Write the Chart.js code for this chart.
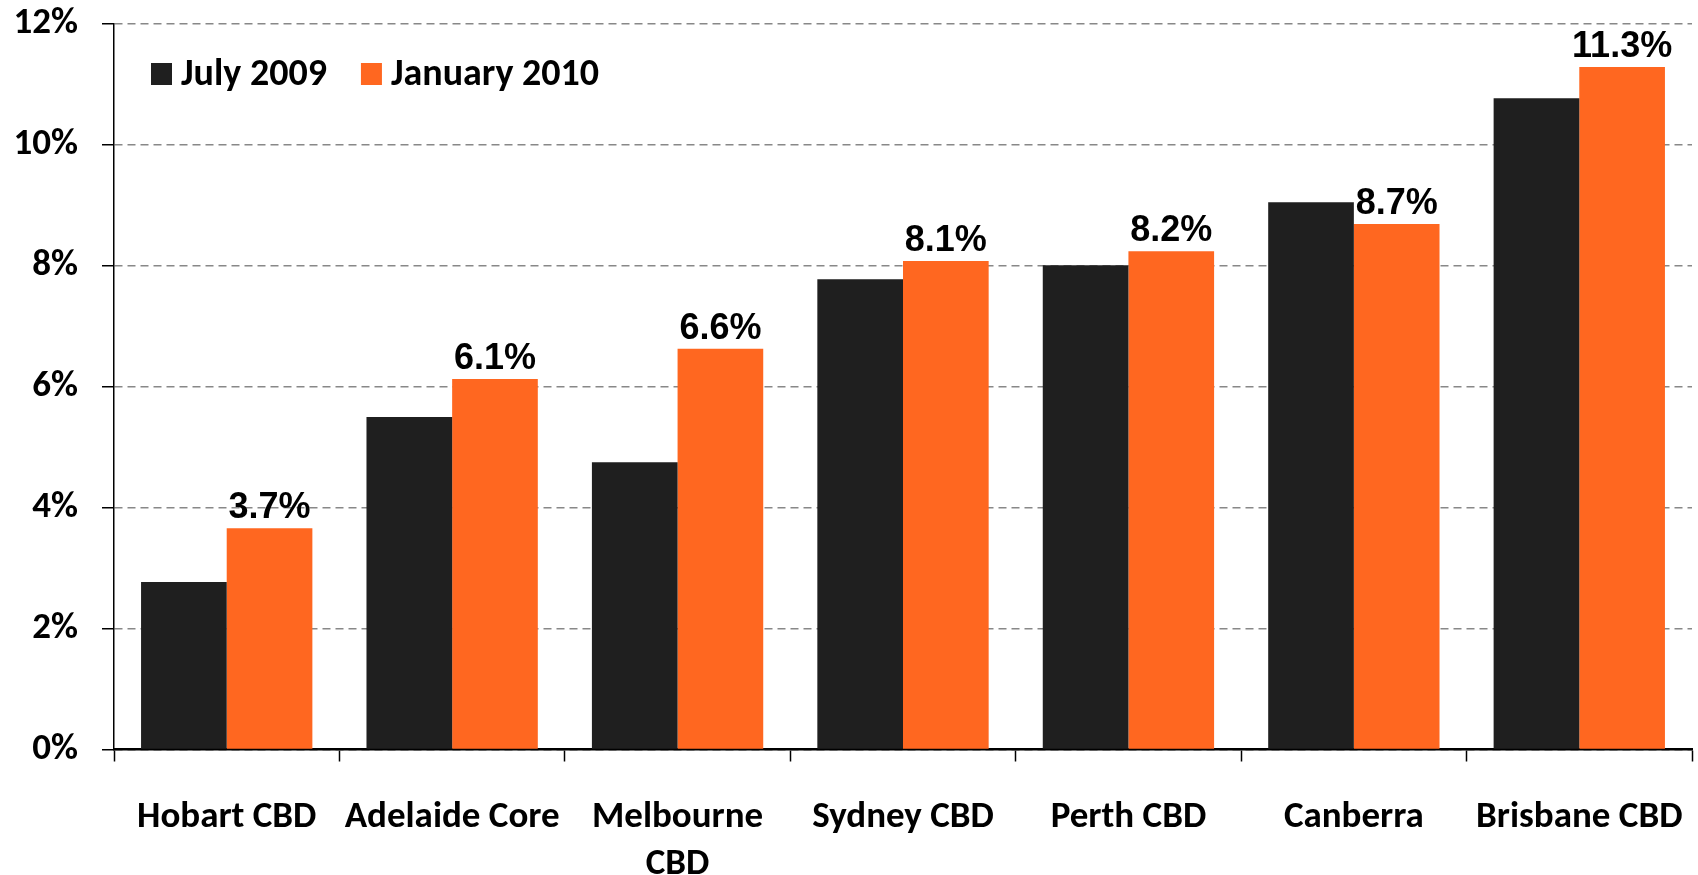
<!DOCTYPE html>
<html>
<head>
<meta charset="utf-8">
<script src="https://cdn.jsdelivr.net/npm/chart.js@4.4.0/dist/chart.umd.min.js"></script>
<style>
  html, body { margin: 0; padding: 0; background: #fff; }
  #wrap { position: relative; width: 1698px; height: 875px; }
</style>
</head>
<body>
<div id="wrap"><canvas id="vacancyChart"></canvas></div>
<script>
// categories and series
const cities = ['Hobart CBD', 'Adelaide Core', ['Melbourne', 'CBD'], 'Sydney CBD', 'Perth CBD', 'Canberra', 'Brisbane CBD'];
const july2009 = [2.77, 5.5, 4.75, 7.78, 8.01, 9.05, 10.77];
const jan2010 = [3.66, 6.13, 6.63, 8.08, 8.24, 8.69, 11.29];
const yTicks = [0, 2, 4, 6, 8, 10, 12];

const tickFont = "Carlito, 'Liberation Sans Narrow', 'DejaVu Sans Condensed', sans-serif";

// value labels above January 2010 bars
const barLabels = {
  id: 'barLabels',
  afterDatasetsDraw(chart) {
    const ctx = chart.ctx;
    const meta = chart.getDatasetMeta(1);
    ctx.save();
    ctx.font = "bold 36px 'Liberation Sans', Arial, sans-serif";
    ctx.fillStyle = '#000';
    ctx.textAlign = 'center';
    ctx.textBaseline = 'alphabetic';
    meta.data.forEach(function(bar, i) {
      ctx.fillText(jan2010[i].toFixed(1) + '%', bar.x, bar.y - 10);
    });
    ctx.restore();
  }
};

// legend drawn in one row inside the plot, top-left
const inlineLegend = {
  id: 'inlineLegend',
  afterDraw(chart) {
    const ctx = chart.ctx;
    const area = chart.chartArea;
    let x = area.left + 37;
    const y = area.top + 50;
    ctx.save();
    ctx.font = "bold 38px " + tickFont;
    ctx.textBaseline = 'middle';
    ctx.textAlign = 'left';
    chart.data.datasets.forEach(function(ds) {
      ctx.fillStyle = ds.backgroundColor;
      ctx.fillRect(x, y - 11, 21, 22);
      x += 30;
      ctx.fillStyle = '#000';
      ctx.fillText(ds.label, x, y + 1);
      x += ctx.measureText(ds.label).width + 34;
    });
    ctx.restore();
  }
};

new Chart(document.getElementById('vacancyChart'), {
  type: 'bar',
  data: {
    labels: cities,
    datasets: [
      {
        label: 'July 2009',
        data: july2009,
        backgroundColor: '#1F1F1F',
        categoryPercentage: 0.76,
        barPercentage: 1.0
      },
      {
        label: 'January 2010',
        data: jan2010,
        backgroundColor: '#FF6720',
        categoryPercentage: 0.76,
        barPercentage: 1.0
      }
    ]
  },
  options: {
    responsive: true,
    maintainAspectRatio: false,
    animation: false,
    layout: { padding: { top: 24, right: 6, left: 0, bottom: 0 } },
    scales: {
      x: {
        grid: {
          display: true,
          drawOnChartArea: false,
          drawTicks: true,
          tickLength: 12,
          tickColor: '#000',
          tickWidth: 1.5
        },
        border: { display: true, color: '#000', width: 2.5 },
        ticks: {
          color: '#000',
          padding: 33,
          maxRotation: 0,
          autoSkip: false,
          font: { family: tickFont, size: 37, weight: 'bold', lineHeight: 1.27 }
        },
        afterFit(scale) {
          scale.height = 125.5;
          scale.paddingLeft = 0;
          scale.paddingRight = 0;
        }
      },
      y: {
        min: 0,
        max: 12,
        afterBuildTicks(scale) {
          scale.ticks = yTicks.map(function(v) { return { value: v }; });
        },
        grid: {
          color: '#888',
          lineWidth: 1.5,
          tickLength: 12,
          tickColor: '#000',
          tickWidth: 1.5,
          tickBorderDash: []
        },
        border: { display: true, color: '#000', width: 1.5, dash: [8, 5] },
        ticks: {
          color: '#000',
          padding: 24,
          font: { family: tickFont, size: 37, weight: 'bold' },
          callback: function(v) { return v + '%'; }
        },
        afterFit(scale) {
          scale.width = 114;
          scale.paddingTop = 0;
          scale.paddingBottom = 0;
        }
      }
    },
    plugins: {
      legend: { display: false },
      tooltip: { enabled: false }
    }
  },
  plugins: [barLabels, inlineLegend]
});
</script>
</body>
</html>
